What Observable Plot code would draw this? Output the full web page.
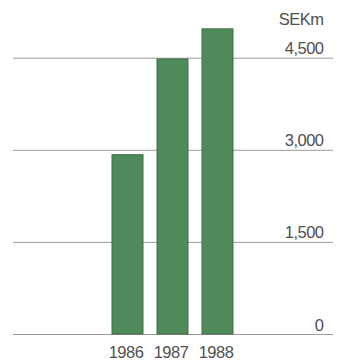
<!DOCTYPE html>
<html>
<head>
<meta charset="utf-8">
<script src="https://cdn.jsdelivr.net/npm/d3@7"></script>
<script src="https://cdn.jsdelivr.net/npm/@observablehq/plot@0.6"></script>
<style>
  html, body { margin: 0; padding: 0; background: #fff; }
  #chart svg { display: block; }
  #chart svg text { letter-spacing: -0.5px; }
</style>
</head>
<body>
<div id="chart"></div>
<script>
// Annual amounts, SEK millions
const years = ["1986", "1987", "1988"];
const amounts = [2920, 4480, 4970];
const yTicks = [0, 1500, 3000, 4500];
const unitLabel = "SEKm";

const data = years.map((year, i) => ({year, amount: amounts[i]}));
const fmt = d3.format(",");

const chart = Plot.plot({
  width: 342,
  height: 363,
  marginTop: 27,
  marginBottom: 29,
  marginLeft: 13,
  marginRight: 9,
  style: {fontFamily: "'Liberation Sans', Arial, sans-serif", fontSize: "16.5px", color: "#4f4f4f", background: "#fff"},
  x: {domain: years, paddingInner: 0.31, paddingOuter: 2.21, axis: null},
  y: {domain: [0, 5000], axis: null},
  marks: [
    Plot.ruleY(yTicks, {stroke: "#9a9a9a", strokeWidth: 1}),
    Plot.barY(data, {x: "year", y: "amount", fill: "#508a5a", stroke: "#3f6d48", strokeWidth: 1}),
    Plot.text(yTicks, {
      y: d => d, text: d => fmt(d), frameAnchor: "right",
      textAnchor: "end", lineAnchor: "bottom", dx: -10, dy: -4, fill: "#4f4f4f"
    }),
    Plot.text([4500], {
      y: d => d, text: () => unitLabel, frameAnchor: "right",
      textAnchor: "end", lineAnchor: "bottom", dx: -10, dy: -33, fill: "#4f4f4f"
    }),
    Plot.text(data, {
      x: "year", text: "year", frameAnchor: "bottom",
      lineAnchor: "top", dx: -2, dy: 12, fill: "#4f4f4f"
    })
  ]
});
document.getElementById("chart").append(chart);
</script>
</body>
</html>
